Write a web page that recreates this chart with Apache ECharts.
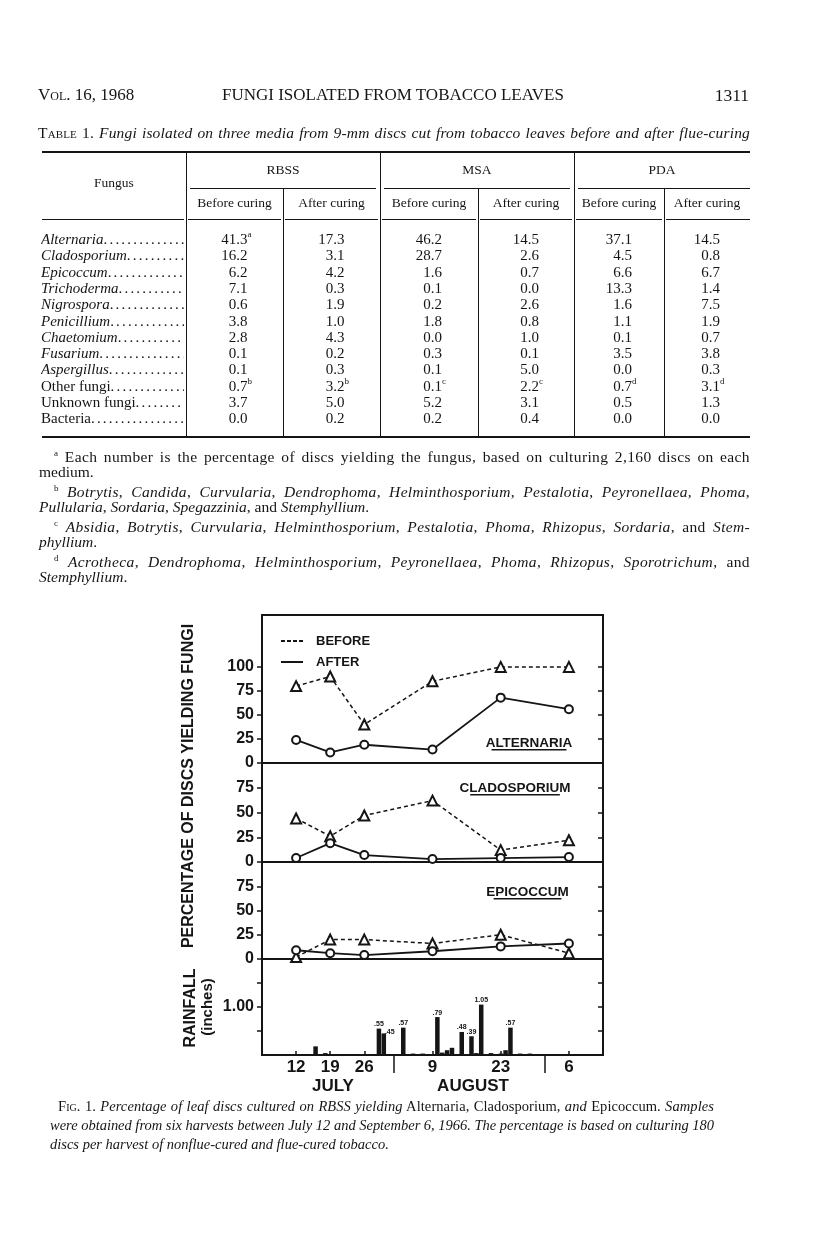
<!DOCTYPE html>
<html><head><meta charset="utf-8">
<script src="https://cdn.jsdelivr.net/npm/echarts@6/dist/echarts.min.js"></script>
<style>
html,body{margin:0;padding:0;background:#fff;}
#page{position:relative;width:816px;height:1245px;overflow:hidden;font-family:"Liberation Serif",serif;color:#151515;background:#fff;}
#chart{position:absolute;left:0;top:0;width:816px;height:1245px;}
.t{position:absolute;white-space:nowrap;}
.j{position:absolute;white-space:nowrap;text-align:justify;text-align-last:justify;}
.sc{font-variant:small-caps;font-style:normal;}
.hl{position:absolute;background:#151515;}
.dots{letter-spacing:2.2px;font-style:normal;}
</style></head><body><div id="page"><div id="chart"></div></div>
<script>
// ---------------- chart data ----------------
const harvestDays = [0, 7, 14, 28, 42, 56];          // days after July 12, 1966
const dayTickLabels = ['12', '19', '26', '9', '23', '6'];
const monthStartDays = [20, 51];                      // Aug 1, Sept 1
const altBefore = [80, 90, 40, 85, 100, 100];
const altAfter  = [24, 11, 19, 14, 68, 56];
const claBefore = [44, 26, 47, 62, 12, 22];
const claAfter  = [4, 19, 7, 3, 4, 5];
const epiBefore = [2, 20, 20, 16, 25, 6];
const epiAfter  = [9, 6, 4, 8, 13, 16];
const rainDays   = [4, 6, 17, 18, 22, 24, 26, 29, 30, 31, 32, 34, 36, 37, 38, 40, 42, 43, 44, 46, 48];
const rainInches = [0.18, 0.04, 0.55, 0.45, 0.57, 0.03, 0.03, 0.79, 0.05, 0.10, 0.15, 0.48, 0.39, 0.04, 1.05, 0.04, 0.03, 0.10, 0.57, 0.03, 0.03];
const pctTicksTop = [0, 25, 50, 75, 100];
const pctTicks = [0, 25, 50, 75];
const rainTicks = [0.5, 1, 1.5];
const panelNames = ['ALTERNARIA', 'CLADOSPORIUM', 'EPICOCCUM'];

// ---------------- table data ----------------
const fungi = ['Alternaria', 'Cladosporium', 'Epicoccum', 'Trichoderma', 'Nigrospora', 'Penicillium', 'Chaetomium', 'Fusarium', 'Aspergillus', 'Other fungi', 'Unknown fungi', 'Bacteria'];
const fungusItalic = [1, 1, 1, 1, 1, 1, 1, 1, 1, 0, 0, 0];
const rbssBefore = ['41.3|a', '16.2', '6.2', '7.1', '0.6', '3.8', '2.8', '0.1', '0.1', '0.7|b', '3.7', '0.0'];
const rbssAfter  = ['17.3', '3.1', '4.2', '0.3', '1.9', '1.0', '4.3', '0.2', '0.3', '3.2|b', '5.0', '0.2'];
const msaBefore  = ['46.2', '28.7', '1.6', '0.1', '0.2', '1.8', '0.0', '0.3', '0.1', '0.1|c', '5.2', '0.2'];
const msaAfter   = ['14.5', '2.6', '0.7', '0.0', '2.6', '0.8', '1.0', '0.1', '5.0', '2.2|c', '3.1', '0.4'];
const pdaBefore  = ['37.1', '4.5', '6.6', '13.3', '1.6', '1.1', '0.1', '3.5', '0.0', '0.7|d', '0.5', '0.0'];
const pdaAfter   = ['14.5', '0.8', '6.7', '1.4', '7.5', '1.9', '0.7', '3.8', '0.3', '3.1|d', '1.3', '0.0'];
const mediaNames = ['RBSS', 'MSA', 'PDA'];

// ---------------- page text (HTML) ----------------
const page = document.getElementById('page');
function add(html, css, cls) {
  const d = document.createElement('div');
  d.className = cls || 't';
  d.style.cssText = css;
  d.innerHTML = html;
  page.appendChild(d);
  return d;
}
function line(x, y, w, h) { add('', `left:${x}px;top:${y}px;width:${w}px;height:${h}px;`, 'hl'); }
// justified single line: spread partly with letter-spacing, rest with word spacing
function just(html, x, y, w, css) {
  const d = add(html, `left:${x}px;top:${y}px;${css}`, 't');
  const nat = d.getBoundingClientRect().width;
  const n = d.textContent.length;
  const f = nat > w ? 1.08 : 0.5;
  const ls = Math.max(-1.5, Math.min(0.6, (w - nat) / n * f));
  d.style.letterSpacing = ls + 'px';
  d.className = 'j';
  d.style.width = w + 'px';
  return d;
}

add('<span class="sc">Vol.</span> 16, 1968', 'left:38px;top:86px;font-size:17px;line-height:18px;');
add('FUNGI ISOLATED FROM TOBACCO LEAVES', 'left:222px;top:86px;font-size:17px;line-height:18px;');
add('1311', 'right:67px;top:86px;font-size:17.5px;line-height:18px;');
just('<span class="sc">Table</span> 1. <i>Fungi isolated on three media from 9-mm discs cut from tobacco leaves before and after flue-curing</i>',
    38, 125, 712, 'font-size:15.5px;line-height:16px;');

// table geometry
const colX = [42, 186, 283, 380, 478, 574, 664, 750];
line(42, 151, 708, 2);
line(42, 436, 708, 2);
[186, 380, 574].forEach(x => line(x, 152, 1, 285));
[283, 478, 664].forEach(x => line(x, 188, 1, 249));
line(190, 188, 186, 1); line(384, 188, 186, 1); line(578, 188, 172, 1);
line(42, 219, 142, 1); line(188, 219, 93, 1); line(285, 219, 93, 1); line(382, 219, 94, 1); line(480, 219, 92, 1); line(576, 219, 86, 1); line(666, 219, 84, 1);
add('Fungus', 'left:42px;width:144px;text-align:center;top:175px;font-size:13.5px;line-height:16px;');
mediaNames.forEach((m, i) => {
  const a = colX[1 + 2 * i], b = colX[3 + 2 * i];
  add(m, `left:${a}px;width:${b - a}px;text-align:center;top:162px;font-size:13.5px;line-height:16px;`);
  for (let k = 0; k < 2; k++) {
    const c0 = colX[1 + 2 * i + k], c1 = colX[2 + 2 * i + k];
    add(k ? 'After curing' : 'Before curing', `left:${c0}px;width:${c1 - c0}px;text-align:center;top:195px;font-size:13.5px;line-height:16px;`);
  }
});
const cols = [rbssBefore, rbssAfter, msaBefore, msaAfter, pdaBefore, pdaAfter];
fungi.forEach((f, r) => {
  const y = 231 + 16.3 * r;
  const lbl = fungusItalic[r] ? `<i>${f}</i>` : f;
  add(lbl + '<span class="dots">' + '.'.repeat(30) + '</span>', `left:41px;top:${y}px;width:143px;overflow:hidden;font-size:15px;line-height:17px;`);
  cols.forEach((col, c) => {
    const cx = (colX[c + 1] + colX[c + 2]) / 2;
    const [num, sup] = col[r].split('|');
    const supHtml = sup ? `<span style="position:absolute;left:100%;top:-1px;font-size:9px;line-height:9px;">${sup}</span>` : '';
    add(`<span style="position:relative">${num}${supHtml}</span>`, `right:${816 - (cx + 13)}px;top:${y}px;font-size:15px;line-height:17px;`);
  });
});

// footnotes
const fn = [
  [54, '<sup style="font-size:9px">a</sup> Each number is the percentage of discs yielding the fungus, based on culturing 2,160 discs on each', 1],
  [39, 'medium.', 0],
  [54, '<sup style="font-size:9px">b</sup> <i>Botrytis</i>, <i>Candida</i>, <i>Curvularia</i>, <i>Dendrophoma</i>, <i>Helminthosporium</i>, <i>Pestalotia</i>, <i>Peyronellaea</i>, <i>Phoma</i>,', 1],
  [39, '<i>Pullularia</i>, <i>Sordaria</i>, <i>Spegazzinia</i>, and <i>Stemphyllium</i>.', 0],
  [54, '<sup style="font-size:9px">c</sup> <i>Absidia</i>, <i>Botrytis</i>, <i>Curvularia</i>, <i>Helminthosporium</i>, <i>Pestalotia</i>, <i>Phoma</i>, <i>Rhizopus</i>, <i>Sordaria</i>, and <i>Stem-</i>', 1],
  [39, '<i>phyllium</i>.', 0],
  [54, '<sup style="font-size:9px">d</sup> <i>Acrotheca</i>, <i>Dendrophoma</i>, <i>Helminthosporium</i>, <i>Peyronellaea</i>, <i>Phoma</i>, <i>Rhizopus</i>, <i>Sporotrichum</i>, and', 1],
  [39, '<i>Stemphyllium</i>.', 0]
];
fn.forEach(([x, h, j], i) => {
  const y = 445 + 17.5 * i;
  if (j) just(h, x, y, 750 - x, 'font-size:15.5px;line-height:17px;');
  else add(h, `left:${x}px;top:${y}px;font-size:15.5px;line-height:17px;`);
});

// caption
const cap = [
  [58, '<span class="sc">Fig.</span> 1. <i>Percentage of leaf discs cultured on RBSS yielding</i> Alternaria, Cladosporium, <i>and</i> Epicoccum. <i>Samples</i>', 1],
  [50, '<i>were obtained from six harvests between July 12 and September 6, 1966. The percentage is based on culturing 180</i>', 1],
  [50, '<i>discs per harvest of nonflue-cured and flue-cured tobacco.</i>', 0]
];
cap.forEach(([x, h, j], i) => {
  const y = 1098 + 19 * i;
  if (j) just(h, x, y, 714 - x, 'font-size:14.5px;line-height:17px;');
  else add(h, `left:${x}px;top:${y}px;font-size:14.5px;line-height:17px;`);
});

// ---------------- ECharts ----------------
const FONT = '"Liberation Sans", Arial, sans-serif';
const INK = '#151515';
const chart = echarts.init(document.getElementById('chart'), null, { renderer: 'canvas' });
const gridTops = [615, 763, 862, 959];
const gridHeights = [148, 99, 97, 96];
const grids = gridTops.map((t, i) => ({ left: 262, width: 341, top: t, height: gridHeights[i], show: true, borderColor: INK, borderWidth: 2, backgroundColor: 'transparent', containLabel: false }));

const baseX = { type: 'value', min: -7, max: 63, position: 'bottom', splitLine: { show: false } };
const xAxes = [0, 1, 2].map(i => Object.assign({}, baseX, { gridIndex: i, show: false }));
xAxes.push(Object.assign({}, baseX, {
  gridIndex: 3, axisLine: { show: false, onZero: false },
  axisTick: { show: true, inside: true, length: 4, customValues: harvestDays, lineStyle: { color: INK, width: 1.5 } },
  axisLabel: { customValues: harvestDays, formatter: v => dayTickLabels[harvestDays.indexOf(v)], fontSize: 17, fontWeight: 'bold', fontFamily: FONT, color: INK, margin: 4 }
}));
xAxes.push(Object.assign({}, baseX, {
  gridIndex: 3, axisLine: { show: false, onZero: false },
  axisTick: { show: true, inside: false, length: 18, customValues: monthStartDays, lineStyle: { color: INK, width: 1.5 } },
  axisLabel: { show: false }
}));

function yPair(gi, max, ticks, labels, fmt) {
  const left = {
    type: 'value', gridIndex: gi, min: 0, max: max, position: 'left',
    axisLine: { show: false, onZero: false }, splitLine: { show: false },
    axisTick: { show: true, inside: false, length: 5, customValues: ticks, lineStyle: { color: INK, width: 1.5 } },
    axisLabel: { customValues: labels, formatter: fmt, fontSize: 16, fontWeight: 'bold', fontFamily: FONT, color: INK, margin: 8 }
  };
  const right = {
    type: 'value', gridIndex: gi, min: 0, max: max, position: 'right',
    axisLine: { show: false, onZero: false }, splitLine: { show: false },
    axisTick: { show: true, inside: true, length: 5, customValues: ticks.filter(v => v > 0), lineStyle: { color: INK, width: 1.5 } },
    axisLabel: { show: false }
  };
  return [left, right];
}
const yAxes = [].concat(
  yPair(0, 154, pctTicksTop, pctTicksTop, v => String(v)),
  yPair(1, 100, pctTicks, pctTicks, v => String(v)),
  yPair(2, 100, pctTicks, pctTicks, v => String(v)),
  yPair(3, 2, rainTicks, [1], v => v.toFixed(2))
);

const sets = [[altBefore, altAfter], [claBefore, claAfter], [epiBefore, epiAfter]];
const series = [];
sets.forEach(([b, a], i) => {
  series.push({
    type: 'line', name: 'BEFORE', xAxisIndex: i, yAxisIndex: 2 * i,
    data: harvestDays.map((d, k) => [d, b[k]]),
    symbol: 'emptyTriangle', symbolSize: 10, z: 3,
    lineStyle: { color: INK, width: 1.5, type: [4, 3] },
    itemStyle: { color: INK, borderWidth: 1.5 }, animation: false
  });
  series.push({
    type: 'line', name: 'AFTER', xAxisIndex: i, yAxisIndex: 2 * i,
    data: harvestDays.map((d, k) => [d, a[k]]),
    symbol: 'emptyCircle', symbolSize: 8, z: 4,
    lineStyle: { color: INK, width: 1.8, type: 'solid' },
    itemStyle: { color: INK, borderWidth: 1.5 }, animation: false
  });
});
const rainData = rainDays.map((d, k) => {
  const v = rainInches[k];
  const shown = v >= 0.3;
  const prevShown = k > 0 && rainDays[k - 1] === d - 1 && rainInches[k - 1] >= 0.3;
  return { value: [d, v], label: { show: shown, offset: prevShown ? [6, 3] : [0, 0] } };
});
series.push({
  type: 'bar', name: 'RAIN', xAxisIndex: 3, yAxisIndex: 6, data: rainData, barWidth: 4.5,
  itemStyle: { color: INK }, animation: false,
  label: { position: 'top', distance: 1, fontSize: 7, fontWeight: 'bold', fontFamily: FONT, color: INK,
    formatter: p => { const v = p.value[1]; return v >= 1 ? v.toFixed(2) : v.toFixed(2).slice(1); } }
});

const dashIcon = 'path://M0,0h4v2h-4zM6,0h4v2h-4zM12,0h4v2h-4zM18,0h4v2h-4z';
const graphics = [
  { type: 'text', x: 189, y: 786, rotation: Math.PI / 2, style: { text: 'PERCENTAGE OF DISCS YIELDING FUNGI', fontSize: 16, fontWeight: 'bold', fontFamily: FONT, fill: INK, align: 'center', verticalAlign: 'middle' } },
  { type: 'text', x: 191, y: 1008, rotation: Math.PI / 2, style: { text: 'RAINFALL', fontSize: 16, fontWeight: 'bold', fontFamily: FONT, fill: INK, align: 'center', verticalAlign: 'middle' } },
  { type: 'text', x: 208, y: 1007, rotation: Math.PI / 2, style: { text: '(inches)', fontSize: 15, fontWeight: 'bold', fontFamily: FONT, fill: INK, align: 'center', verticalAlign: 'middle' } },
  { type: 'text', x: 333, y: 1086, style: { text: 'JULY', fontSize: 17, fontWeight: 'bold', fontFamily: FONT, fill: INK, align: 'center', verticalAlign: 'middle' } },
  { type: 'text', x: 473, y: 1086, style: { text: 'AUGUST', fontSize: 17, fontWeight: 'bold', fontFamily: FONT, fill: INK, align: 'center', verticalAlign: 'middle' } }
];
const titlePos = [[529, 743], [515, 788], [527.5, 892]];
panelNames.forEach((n, i) => {
  const [x, y] = titlePos[i];
  graphics.push({ type: 'text', x: x, y: y, style: { text: n, fontSize: 13.5, fontWeight: 'bold', fontFamily: FONT, fill: INK, align: 'center', verticalAlign: 'middle' } });
  const w = n.length * 7.3;
  graphics.push({ type: 'rect', shape: { x: x - w / 2 - 1, y: y + 6, width: w + 2, height: 1.5 }, style: { fill: INK } });
});

chart.setOption({
  animation: false,
  backgroundColor: 'transparent',
  grid: grids, xAxis: xAxes, yAxis: yAxes, series: series,
  legend: {
    orient: 'vertical', left: 276, top: 629, itemWidth: 22, itemHeight: 2, itemGap: 7, selectedMode: false,
    data: [{ name: 'BEFORE', icon: dashIcon }, { name: 'AFTER', icon: 'rect' }],
    textStyle: { fontSize: 13, fontWeight: 'bold', fontFamily: FONT, color: INK, lineHeight: 14, padding: [0, 0, 0, 8] }
  },
  graphic: graphics
});
</script></body></html>
